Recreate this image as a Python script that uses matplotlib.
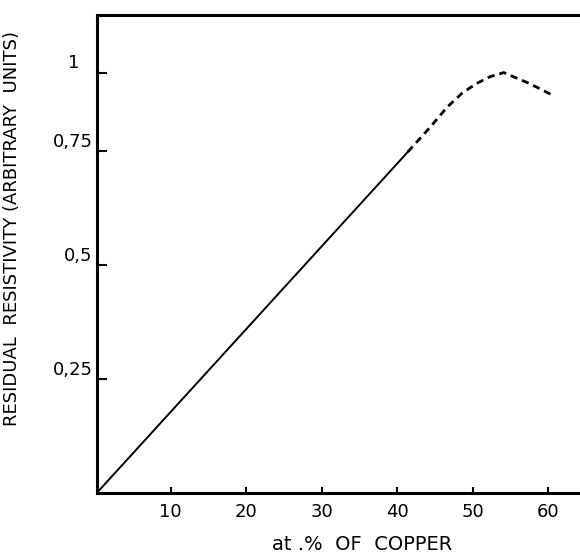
import matplotlib
matplotlib.use("Agg")
import matplotlib.pyplot as plt
import matplotlib.transforms as mtransforms

# solid (measured) part
solid_x = [0.2, 41.4]
solid_y = [0.0, 0.748]

# dashed (extrapolated) part
dash_x = [41.4, 44.4, 46.6, 48.6, 50.5, 52.3, 54.1, 57.5, 60.5]
dash_y = [0.748, 0.803, 0.846, 0.877, 0.898, 0.913, 0.922, 0.898, 0.873]

xticks = [10, 20, 30, 40, 50, 60]
yticks = [0.25, 0.5, 0.75, 0.922]
ytick_labels = ['0,25', '0,5', '0,75', '1']

fig = plt.figure(figsize=(5.8, 5.59), dpi=100)
ax = fig.add_axes([0.1667, 0.118, 0.8333, 0.855])

ax.plot(solid_x, solid_y, color='black', lw=1.4)
ax.plot(dash_x, dash_y, color='black', lw=2.0, dashes=(2.6, 1.8))

ax.set_xlim(0.2, 64.2)
ax.set_ylim(0, 1.048)

ax.set_xticks(xticks)
ax.set_xticklabels([str(t) for t in xticks])
ax.set_yticks(yticks)
ax.set_yticklabels(ytick_labels)

for s in ['left', 'bottom', 'top']:
    ax.spines[s].set_linewidth(2.2)
ax.spines['right'].set_visible(False)

ax.tick_params(axis='x', direction='in', length=4, width=1.5, pad=7, labelsize=13)
ax.tick_params(axis='y', direction='in', length=7, width=1.5, pad=3, labelsize=13)
for lbl in ax.get_yticklabels():
    lbl.set_verticalalignment('bottom')
# the "1" label sits further left in the original
one = ax.get_yticklabels()[-1]
one.set_transform(one.get_transform() +
                  mtransforms.ScaledTranslation(-0.13, 0.01, fig.dpi_scale_trans))

ax.set_xlabel('at .%  OF  COPPER', fontsize=14)
ax.xaxis.set_label_coords(0.549, -0.088)
ax.set_ylabel('RESIDUAL  RESISTIVITY (ARBITRARY  UNITS)', fontsize=13)
ax.yaxis.set_label_coords(-0.157, 0.554)

fig.savefig('out.png', dpi=100)
